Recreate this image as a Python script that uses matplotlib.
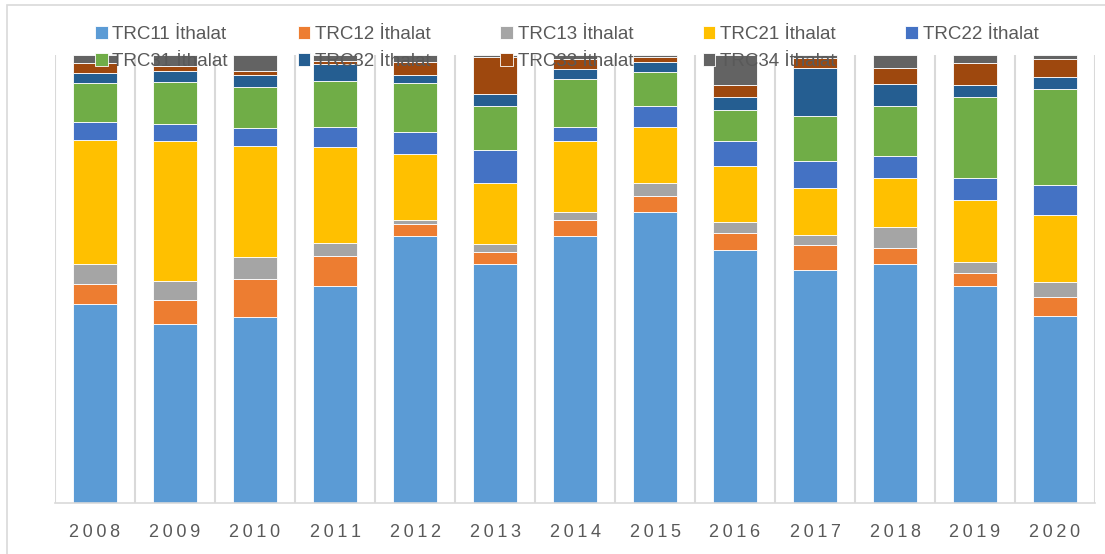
import numpy as np
import matplotlib
matplotlib.use("Agg")
import matplotlib.pyplot as plt
from matplotlib.patches import Rectangle

years = ["2008", "2009", "2010", "2011", "2012", "2013", "2014",
         "2015", "2016", "2017", "2018", "2019", "2020"]

# share of imports by sub-region (percent)
trc11 = [44.5, 40.0, 41.4, 48.4, 59.6, 53.4, 59.6, 65.0, 56.5, 51.9, 53.4, 48.3, 41.6]
trc12 = [4.5, 5.2, 8.5, 6.6, 2.6, 2.7, 3.6, 3.4, 3.8, 5.7, 3.6, 2.9, 4.3]
trc13 = [4.3, 4.3, 4.9, 3.1, 1.0, 1.6, 1.8, 3.1, 2.5, 2.1, 4.7, 2.5, 3.4]
trc21 = [27.8, 31.3, 24.7, 21.4, 14.6, 13.8, 15.7, 12.5, 12.3, 10.6, 10.8, 14.0, 15.0]
trc22 = [4.1, 3.7, 4.0, 4.5, 5.0, 7.3, 3.3, 4.5, 5.8, 6.0, 5.1, 4.9, 6.7]
trc31 = [8.6, 9.5, 9.3, 10.1, 10.9, 9.7, 10.7, 7.7, 6.9, 10.1, 11.2, 18.0, 21.3]
trc32 = [2.3, 2.5, 2.6, 3.9, 1.9, 2.8, 2.1, 2.3, 2.8, 10.6, 4.9, 2.8, 2.8]
trc33 = [2.1, 1.1, 0.9, 0.7, 2.9, 8.2, 2.2, 1.0, 2.6, 2.3, 3.4, 4.8, 3.9]
trc34 = [1.9, 2.4, 3.6, 1.3, 1.5, 0.5, 1.0, 0.5, 6.8, 0.7, 3.0, 1.8, 1.0]

names = ["TRC11 İthalat", "TRC12 İthalat", "TRC13 İthalat", "TRC21 İthalat",
         "TRC22 İthalat", "TRC31 İthalat", "TRC32 İthalat", "TRC33 İthalat",
         "TRC34 İthalat"]
colors = ["#5B9BD5", "#ED7D31", "#A5A5A5", "#FFC000", "#4472C4",
          "#70AD47", "#255E91", "#9E480E", "#636363"]

series = np.array([trc11, trc12, trc13, trc21, trc22, trc31, trc32, trc33, trc34])
series = series / series.sum(axis=0) * 100  # 100% stacked

fig = plt.figure(figsize=(11.05, 5.54), dpi=100)
ax = fig.add_axes([55 / 1105, 1 - 502.7 / 554, 1040 / 1105, 447.7 / 554])

x = np.arange(len(years))
bottom = np.zeros(len(years))
bars = []
for vals, name, c in zip(series, names, colors):
    b = ax.bar(x, vals, 0.56, bottom=bottom, color=c, label=name,
               edgecolor="white", linewidth=0.6, zorder=2)
    bars.append(b)
    bottom += vals

ax.set_xlim(-0.5, len(years) - 0.5)
ax.set_ylim(0, 100)
ax.set_yticks([])
ax.set_xticks(x)
ax.set_xticklabels(["\u2009".join(y) for y in years],
                   family=["Liberation Sans", "DejaVu Sans"],
                   fontsize=13, color="#595959")
ax.tick_params(axis="x", length=0, pad=15)
ax.set_xticks(np.arange(-0.5, len(years)), minor=True)
ax.tick_params(axis="x", which="minor", length=0)
ax.grid(axis="x", which="minor", color="#d9d9d9", linewidth=1.5, zorder=0)
for s in ["top", "right", "left"]:
    ax.spines[s].set_visible(False)
ax.spines["bottom"].set_color("#d9d9d9")
ax.spines["bottom"].set_linewidth(1.2)

# chart border (Excel chart area)
fig.patches.append(Rectangle((7 / 1105, -0.1), 1.2, 0.1 + 1 - 5 / 554,
                             transform=fig.transFigure, fill=False,
                             edgecolor="#d9d9d9", linewidth=1.2))

# legend fills column by column, so reorder to read row by row
order = [0, 5, 1, 6, 2, 7, 3, 8, 4]
leg = fig.legend(handles=[bars[i] for i in order],
                 labels=[names[i] for i in order], ncol=5, loc="upper left",
                 bbox_to_anchor=(95 / 1105, 1 - 26 / 554), frameon=False,
                 prop={"family": "Liberation Sans", "size": 13.5},
                 handlelength=0.68, handleheight=0.68, handletextpad=0.25,
                 columnspacing=3.71, labelspacing=0.55, borderpad=0,
                 borderaxespad=0)
for t in leg.get_texts():
    t.set_color("#595959")

fig.savefig("out.png", dpi=100)
